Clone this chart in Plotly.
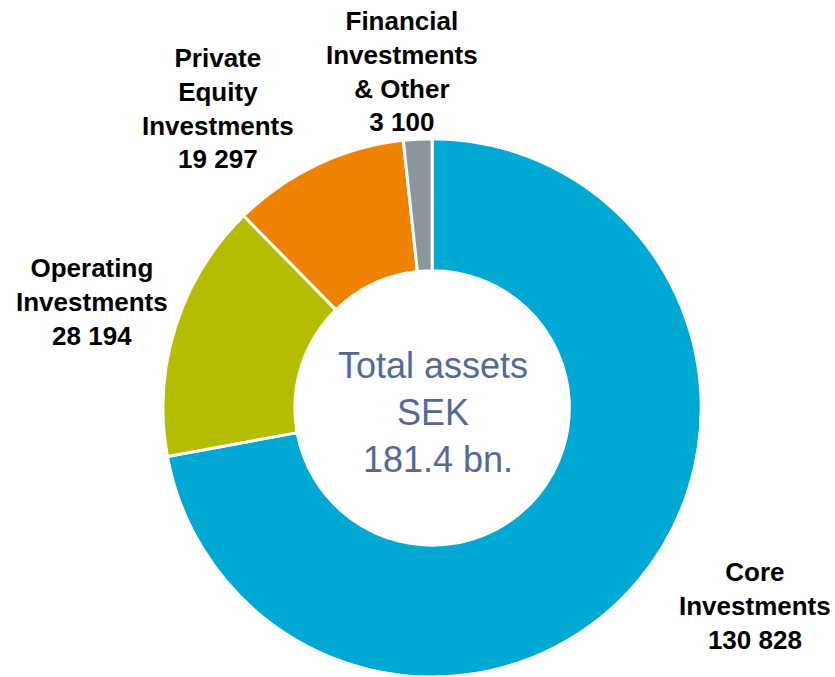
import plotly.graph_objects as go

categories = ["Core<br>Investments", "Operating<br>Investments", "Private<br>Equity<br>Investments", "Financial<br>Investments<br>& Other"]
values = [130828, 28194, 19297, 3100]
value_labels = ["130 828", "28 194", "19 297", "3 100"]
colors = ["#00A9D4", "#B5BD00", "#EF8200", "#8A969C"]
center_text = "Total assets<br>SEK<br> 181.4 bn."

W, H = 835, 677

fig = go.Figure()
fig.add_trace(go.Pie(
    labels=categories,
    values=values,
    hole=0.51,
    sort=False,
    direction="clockwise",
    rotation=0,
    textinfo="none",
    hoverinfo="label+value",
    marker=dict(colors=colors, line=dict(color="white", width=3)),
    domain=dict(x=[0.195, 0.840], y=[0.0, 0.795]),
    showlegend=False,
))

# label positions (pixel centers of text blocks)
label_pos = [(755, 606), (92, 302), (218, 108), (402, 71)]
for cat, vl, (px, py) in zip(categories, value_labels, label_pos):
    fig.add_annotation(
        x=px / W, y=1 - py / H, xref="paper", yref="paper",
        text="<b>" + cat + "<br>" + vl + "</b>",
        showarrow=False, xanchor="center", yanchor="middle",
        font=dict(family="Liberation Sans, Arial, sans-serif", size=26, color="#000000"),
        align="center",
    )

fig.add_annotation(
    x=433 / W, y=1 - 412 / H, xref="paper", yref="paper",
    text=center_text, showarrow=False, xanchor="center", yanchor="middle",
    font=dict(family="Liberation Sans, Arial, sans-serif", size=36, color="#566896"),
    align="center",
)

fig.update_layout(
    width=W, height=H,
    margin=dict(l=0, r=0, t=0, b=0),
    paper_bgcolor="white", plot_bgcolor="white",
)

fig.write_html("out.html", config={"displayModeBar": False},
               post_script="document.body.style.margin='0';document.body.style.overflow='hidden';")
